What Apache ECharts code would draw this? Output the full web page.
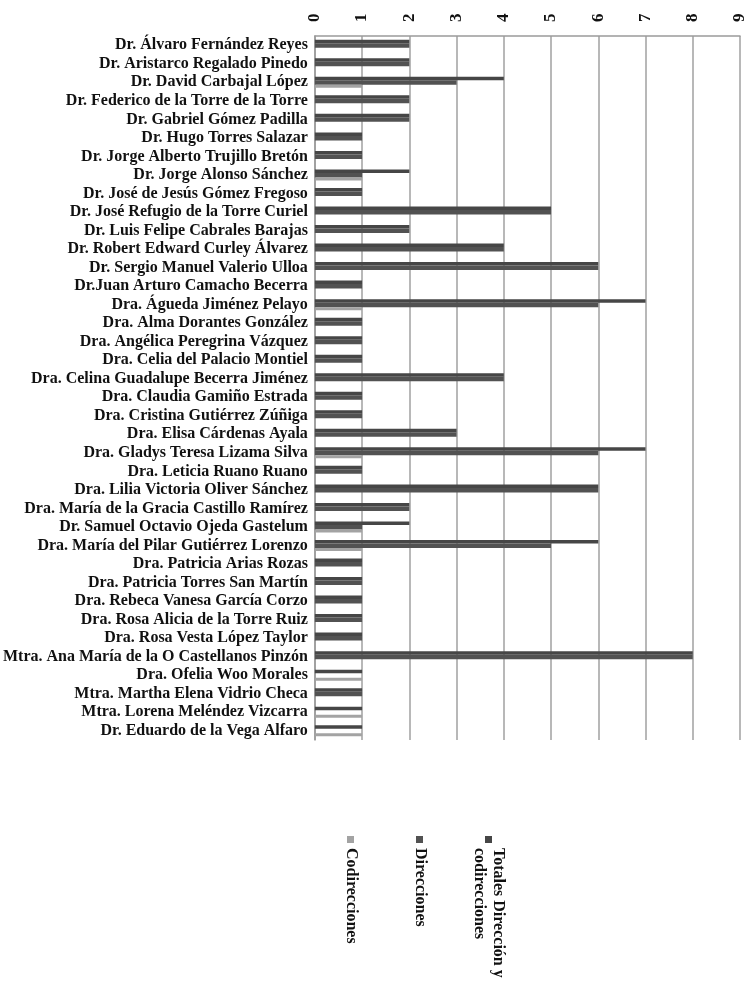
<!DOCTYPE html>
<html>
<head>
<meta charset="utf-8">
<title>Direcciones y codirecciones</title>
<script src="https://cdn.jsdelivr.net/npm/echarts@6/dist/echarts.min.js"></script>
<style>
  html, body { margin: 0; padding: 0; background: #fff; }
  #chart { width: 750px; height: 991px; }
</style>
</head>
<body>
<div id="chart"></div>
<script>
const names = [
  'Dr. Álvaro Fernández Reyes',
  'Dr. Aristarco Regalado Pinedo',
  'Dr. David Carbajal López',
  'Dr. Federico de la Torre de la Torre',
  'Dr. Gabriel Gómez Padilla',
  'Dr. Hugo Torres Salazar',
  'Dr. Jorge Alberto Trujillo Bretón',
  'Dr. Jorge Alonso Sánchez',
  'Dr. José de Jesús Gómez Fregoso',
  'Dr. José Refugio de la Torre Curiel',
  'Dr. Luis Felipe Cabrales Barajas',
  'Dr. Robert Edward Curley Álvarez',
  'Dr. Sergio Manuel Valerio Ulloa',
  'Dr.Juan Arturo Camacho Becerra',
  'Dra. Águeda Jiménez Pelayo',
  'Dra. Alma Dorantes González',
  'Dra. Angélica Peregrina Vázquez',
  'Dra. Celia del Palacio Montiel',
  'Dra. Celina Guadalupe Becerra Jiménez',
  'Dra. Claudia Gamiño Estrada',
  'Dra. Cristina Gutiérrez Zúñiga',
  'Dra. Elisa Cárdenas Ayala',
  'Dra. Gladys Teresa Lizama Silva',
  'Dra. Leticia Ruano Ruano',
  'Dra. Lilia Victoria Oliver Sánchez',
  'Dra. María de la Gracia Castillo Ramírez',
  'Dr. Samuel Octavio Ojeda Gastelum',
  'Dra. María del Pilar Gutiérrez Lorenzo',
  'Dra. Patricia Arias Rozas',
  'Dra. Patricia Torres San Martín',
  'Dra. Rebeca Vanesa García Corzo',
  'Dra. Rosa Alicia de la Torre Ruiz',
  'Dra. Rosa Vesta López Taylor',
  'Mtra. Ana María de la O Castellanos Pinzón',
  'Dra. Ofelia Woo Morales',
  'Mtra. Martha Elena Vidrio Checa',
  'Mtra. Lorena Meléndez Vizcarra',
  'Dr. Eduardo de la Vega Alfaro'
];

const totales       = [2, 2, 4, 2, 2, 1, 1, 2, 1, 5, 2, 4, 6, 1, 7, 1, 1, 1, 4, 1, 1, 3, 7, 1, 6, 2, 2, 6, 1, 1, 1, 1, 1, 8, 1, 1, 1, 1];
const direcciones   = [2, 2, 3, 2, 2, 1, 1, 1, 1, 5, 2, 4, 6, 1, 6, 1, 1, 1, 4, 1, 1, 3, 6, 1, 6, 2, 1, 5, 1, 1, 1, 1, 1, 8, 0, 1, 0, 0];
const codirecciones = [0, 0, 1, 0, 0, 0, 0, 1, 0, 0, 0, 0, 0, 0, 1, 0, 0, 0, 0, 0, 0, 0, 1, 0, 0, 0, 1, 1, 0, 0, 0, 0, 0, 0, 1, 0, 1, 1];

const seriesNames = ['Totales Dirección y\ncodirecciones', 'Direcciones', 'Codirecciones'];
const seriesColors = ['#464646', '#525252', '#a3a3a3'];

const font = 'Liberation Serif';

// leyenda girada 90° (el gráfico original está rotado)
let legendX = [489, 420, 351];
let legendItems = [];
seriesNames.forEach((n, i) => {
  legendItems.push({
    type: 'rect',
    shape: {x: legendX[i] - 4, y: 836, width: 7, height: 7},
    style: {fill: seriesColors[i]}
  });
  legendItems.push({
    type: 'text',
    x: legendX[i],
    y: 848,
    rotation: -Math.PI / 2,
    style: {
      text: n,
      x: 0,
      y: 0,
      textAlign: 'left',
      textVerticalAlign: 'middle',
      font: 'bold 16px "' + font + '"',
      fill: '#111',
      lineHeight: 19
    }
  });
});

let option = {
  animation: false,
  grid: {left: 308, right: 10, top: 36, bottom: 251, containLabel: false},
  xAxis: {
    type: 'value',
    position: 'top',
    min: 0,
    max: 9,
    interval: 1,
    axisLine: {show: true, lineStyle: {color: '#9a9a9a', width: 1.5}},
    axisTick: {show: false},
    axisLabel: {
      rotate: -90,
      margin: 14,
      fontFamily: font,
      fontWeight: 'bold',
      fontSize: 17,
      color: '#111'
    },
    splitLine: {show: true, lineStyle: {color: '#a0a0a0', width: 1.5}}
  },
  yAxis: {
    type: 'category',
    inverse: true,
    data: names,
    axisLine: {show: true, lineStyle: {color: '#9a9a9a', width: 1.5}},
    axisTick: {show: false},
    axisLabel: {
      interval: 0,
      margin: 7,
      fontFamily: font,
      fontWeight: 'bold',
      fontSize: 16,
      color: '#111'
    }
  },
  series: [
    {name: seriesNames[0], type: 'bar', data: totales, barWidth: 3.5, barGap: '0%', itemStyle: {color: seriesColors[0]}},
    {name: seriesNames[1], type: 'bar', data: direcciones, barWidth: 4.5, barGap: '0%', itemStyle: {color: seriesColors[1]}},
    {name: seriesNames[2], type: 'bar', data: codirecciones, barWidth: 3, barGap: '0%', itemStyle: {color: seriesColors[2]}}
  ],
  graphic: legendItems
};

let myChart = echarts.init(document.getElementById('chart'));
myChart.setOption(option);
</script>
</body>
</html>
